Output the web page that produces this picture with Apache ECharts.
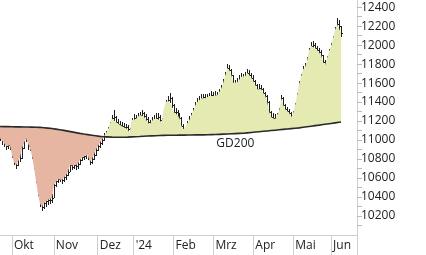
<!DOCTYPE html>
<html>
<head>
<meta charset="utf-8">
<script src="https://cdn.jsdelivr.net/npm/echarts@6/dist/echarts.min.js"></script>
<style>
  html, body { margin: 0; padding: 0; background: #fff; }
  #chart { width: 426px; height: 255px; }
</style>
</head>
<body>
<div id="chart"></div>
<script>
// Kurs (Schluss), Hoch, Tief je Handelstag und GD200
const closes = [
  11020, 10990, 10970, 10935, 10950, 10945, 10840, 10770, 10735, 10820,
  10810, 10915, 11020, 11020, 10935, 10915, 10840, 10715, 10580, 10440,
  10335, 10295, 10335, 10360, 10370, 10370, 10390, 10525, 10570, 10590,
  10600, 10580, 10610, 10630, 10665, 10735, 10715, 10735, 10725, 10745,
  10790, 10820, 10830, 10850, 10840, 10770, 10800, 10840, 10895, 10935,
  10970, 11000, 11040, 11065, 11105, 11160, 11230, 11240, 11190, 11170,
  11160, 11150, 11135, 11135, 11115, 11075, 11210, 11230, 11220, 11230,
  11265, 11285, 11250, 11220, 11190, 11160, 11200, 11220, 11230, 11240,
  11210, 11180, 11315, 11390, 11420, 11440, 11370, 11295, 11295, 11265,
  11230, 11145, 11115, 11095, 11180, 11210, 11265, 11315, 11370, 11400,
  11420, 11440, 11450, 11440, 11450, 11465, 11475, 11465, 11475, 11475,
  11505, 11545, 11610, 11685, 11760, 11735, 11685, 11600, 11580, 11610,
  11630, 11665, 11655, 11675, 11705, 11685, 11655, 11620, 11580, 11535,
  11545, 11535, 11495, 11465, 11400, 11295, 11240, 11230, 11220, 11230,
  11315, 11440, 11370, 11325, 11305, 11285, 11240, 11285, 11370, 11475,
  11590, 11675, 11745, 11770, 11840, 11945, 11990, 12000, 11970, 11945,
  11925, 11895, 11820, 11790, 11865, 11935, 11990, 12075, 12160, 12220,
  12200, 12125
];
const highs = [
  11060, 11045, 11010, 10985, 10990, 10995, 10930, 10850, 10800, 10850,
  10860, 10940, 11060, 11080, 11010, 10960, 10920, 10840, 10720, 10590,
  10450, 10360, 10380, 10400, 10410, 10420, 10430, 10540, 10600, 10630,
  10640, 10630, 10650, 10670, 10700, 10760, 10770, 10775, 10770, 10790,
  10820, 10860, 10880, 10890, 10880, 10840, 10830, 10870, 10920, 10960,
  11000, 11030, 11070, 11100, 11140, 11190, 11260, 11320, 11250, 11220,
  11200, 11190, 11180, 11170, 11160, 11130, 11230, 11270, 11260, 11280,
  11300, 11320, 11300, 11270, 11240, 11210, 11240, 11260, 11280, 11290,
  11260, 11230, 11330, 11420, 11460, 11500, 11450, 11380, 11340, 11320,
  11290, 11240, 11170, 11140, 11200, 11250, 11290, 11340, 11400, 11440,
  11460, 11480, 11490, 11490, 11490, 11500, 11520, 11510, 11520, 11510,
  11540, 11580, 11640, 11720, 11800, 11790, 11750, 11690, 11630, 11650,
  11680, 11710, 11700, 11720, 11750, 11740, 11710, 11680, 11630, 11590,
  11590, 11580, 11550, 11510, 11470, 11410, 11310, 11280, 11270, 11280,
  11340, 11470, 11450, 11380, 11350, 11330, 11300, 11310, 11390, 11500,
  11620, 11700, 11780, 11810, 11870, 11970, 12030, 12040, 12020, 11990,
  11970, 11950, 11900, 11840, 11880, 11960, 12020, 12100, 12190, 12290,
  12260, 12200
];
const lows = [
  10985, 10950, 10925, 10900, 10905, 10890, 10810, 10740, 10700, 10725,
  10770, 10800, 10905, 10975, 10900, 10880, 10800, 10690, 10550, 10410,
  10290, 10250, 10270, 10300, 10320, 10330, 10340, 10390, 10510, 10545,
  10560, 10540, 10560, 10580, 10620, 10660, 10680, 10690, 10685, 10700,
  10740, 10780, 10790, 10800, 10790, 10740, 10750, 10790, 10830, 10880,
  10920, 10950, 10990, 11020, 11050, 11100, 11160, 11200, 11150, 11130,
  11120, 11100, 11095, 11090, 11070, 11030, 11080, 11180, 11175, 11185,
  11210, 11240, 11210, 11180, 11150, 11110, 11150, 11170, 11190, 11195,
  11170, 11130, 11170, 11300, 11370, 11390, 11340, 11260, 11250, 11230,
  11190, 11110, 11060, 11040, 11080, 11160, 11200, 11250, 11300, 11350,
  11370, 11390, 11400, 11400, 11405, 11420, 11430, 11420, 11430, 11430,
  11450, 11490, 11540, 11610, 11680, 11690, 11640, 11570, 11540, 11560,
  11590, 11620, 11610, 11630, 11660, 11640, 11610, 11580, 11530, 11490,
  11500, 11480, 11450, 11410, 11350, 11250, 11190, 11170, 11160, 11180,
  11220, 11300, 11330, 11280, 11260, 11240, 11200, 11230, 11280, 11370,
  11470, 11590, 11670, 11720, 11760, 11840, 11940, 11950, 11930, 11900,
  11880, 11850, 11790, 11760, 11780, 11860, 11930, 11990, 12070, 12150,
  12150, 12090
];
const gd200 = [
  11142, 11142, 11141, 11141, 11141, 11140, 11140, 11140, 11139, 11139,
  11139, 11138, 11138, 11138, 11137, 11137, 11136, 11136, 11135, 11135,
  11134, 11132, 11130, 11128, 11126, 11124, 11121, 11118, 11115, 11112,
  11109, 11106, 11102, 11098, 11094, 11090, 11086, 11082, 11078, 11074,
  11070, 11066, 11063, 11060, 11057, 11054, 11051, 11048, 11045, 11042,
  11039, 11037, 11035, 11034, 11033, 11032, 11031, 11031, 11030, 11030,
  11030, 11030, 11030, 11031, 11031, 11032, 11033, 11034, 11035, 11036,
  11037, 11038, 11040, 11041, 11042, 11043, 11044, 11045, 11046, 11047,
  11048, 11048, 11049, 11049, 11050, 11050, 11050, 11051, 11051, 11051,
  11052, 11052, 11052, 11052, 11053, 11053, 11053, 11053, 11054, 11054,
  11054, 11055, 11055, 11056, 11056, 11057, 11057, 11058, 11058, 11059,
  11060, 11061, 11062, 11063, 11064, 11065, 11066, 11067, 11068, 11069,
  11070, 11071, 11072, 11074, 11076, 11078, 11080, 11082, 11084, 11086,
  11088, 11090, 11092, 11094, 11096, 11098, 11100, 11102, 11104, 11106,
  11108, 11110, 11112, 11114, 11116, 11118, 11120, 11122, 11124, 11126,
  11128, 11131, 11134, 11137, 11140, 11143, 11146, 11149, 11152, 11155,
  11157, 11160, 11163, 11166, 11169, 11172, 11175, 11178, 11181, 11184,
  11187, 11190
];
// Monatsanfänge (Index des Handelstags) und Beschriftung
const monthIdx = [6, 27, 49, 67, 87, 107, 127, 147, 166];
const monthLabels = ['Okt', 'Nov', 'Dez', "'24", 'Feb', 'Mrz', 'Apr', 'Mai', 'Jun'];
const dayCount = 180;

const days = Array.from({ length: dayCount }, (_, i) => String(i));

// Flächen zwischen Kurs und GD200: unten rot, oben gelbgrün
const baseLine = closes.map((c, i) => Math.min(c, gd200[i]));
const belowPart = closes.map((c, i) => gd200[i] - baseLine[i]);
const abovePart = closes.map((c, i) => Math.max(c - gd200[i], 0));
const bars = closes.map((c, i) => [i, highs[i], lows[i], c]);

const font = 'Open Sans';
const textColor = '#222';

const chart = echarts.init(document.getElementById('chart'));

const option = {
  animation: false,
  grid: { left: 0, right: 69, top: 0, bottom: 20 },
  xAxis: {
    type: 'category',
    data: days,
    boundaryGap: false,
    axisLine: { lineStyle: { color: '#cfcfcf', width: 1 } },
    axisTick: {
      length: 20,
      lineStyle: { color: '#cfcfcf' },
      interval: (i) => monthIdx.indexOf(i) >= 0 || i === dayCount - 1
    },
    axisLabel: {
      interval: (i) => monthIdx.indexOf(i) >= 0,
      formatter: (v, i) => monthLabels[monthIdx.indexOf(i)] || '',
      align: 'left',
      padding: [0, 0, 0, 2],
      margin: 5,
      color: textColor,
      fontFamily: font,
      fontSize: 12
    },
    splitLine: { show: false }
  },
  yAxis: {
    type: 'value',
    position: 'right',
    min: 10000,
    max: 12475,
    interval: 100,
    axisLine: { show: true, lineStyle: { color: '#cfcfcf' } },
    axisTick: { show: true, length: 5, lineStyle: { color: '#bbb' } },
    axisLabel: {
      showMinLabel: false,
      showMaxLabel: false,
      margin: 4,
      color: textColor,
      fontFamily: font,
      fontSize: 12,
      formatter: (v) => (v % 200 === 0 ? String(v) : '')
    },
    splitLine: { show: false }
  },
  series: [
    {
      type: 'line', stack: 'band', data: baseLine, symbol: 'none',
      lineStyle: { opacity: 0 }, silent: true
    },
    {
      type: 'line', stack: 'band', data: belowPart, symbol: 'none',
      lineStyle: { opacity: 0 }, areaStyle: { color: '#e7b6a3', opacity: 1 }, silent: true
    },
    {
      type: 'line', stack: 'band', data: abovePart, symbol: 'none',
      lineStyle: { opacity: 0 }, areaStyle: { color: '#e5eab2', opacity: 1 }, silent: true
    },
    {
      type: 'line', data: gd200, symbol: 'none',
      lineStyle: { color: '#2a2a2a', width: 1.6 },
      markPoint: {
        symbol: 'circle', symbolSize: 0,
        data: [{ coord: [118, 10960] }],
        label: {
          show: true, formatter: 'GD200', color: textColor,
          fontFamily: font, fontSize: 12
        }
      }
    },
    {
      type: 'custom',
      data: bars,
      renderItem: function (params, api) {
        const hi = api.coord([api.value(0), api.value(1)]);
        const lo = api.coord([api.value(0), api.value(2)]);
        const cl = api.coord([api.value(0), api.value(3)]);
        const x = Math.round(hi[0]) + 0.5;
        const yc = Math.round(cl[1]) + 0.5;
        return {
          type: 'group',
          children: [
            {
              type: 'line',
              shape: { x1: x, y1: Math.round(hi[1]), x2: x, y2: Math.round(lo[1]) },
              style: { stroke: '#1e1e1e', lineWidth: 1 }
            },
            {
              type: 'line',
              shape: { x1: x, y1: yc, x2: x + 1.5, y2: yc },
              style: { stroke: '#1e1e1e', lineWidth: 1 }
            }
          ]
        };
      }
    }
  ]
};

chart.setOption(option);
</script>
</body>
</html>
